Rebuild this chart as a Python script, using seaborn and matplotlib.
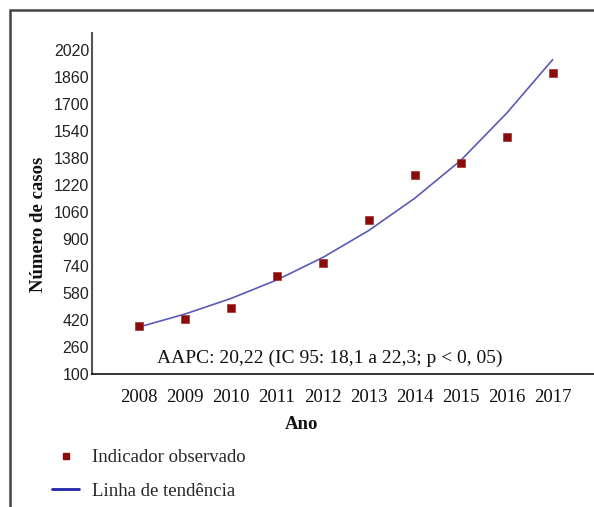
import matplotlib
matplotlib.use("Agg")
import matplotlib.pyplot as plt
import seaborn as sns
import pandas as pd
from matplotlib.lines import Line2D
from matplotlib.patches import Rectangle

years = [2008, 2009, 2010, 2011, 2012, 2013, 2014, 2015, 2016, 2017]
observed = [384, 424, 489, 681, 760, 1013, 1279, 1352, 1506, 1882]
trend = [378, 455, 547, 657, 790, 950, 1141, 1365, 1645, 1962]
yticks = [100, 260, 420, 580, 740, 900, 1060, 1220, 1380, 1540, 1700, 1860, 2020]
annotation = "AAPC: 20,22 (IC 95: 18,1 a 22,3; p < 0, 05)"

df = pd.DataFrame({"Ano": years, "obs": observed, "trend": trend})

sns.set_theme(style="white")
plt.rcParams["font.family"] = ["Liberation Serif", "DejaVu Serif"]

fig = plt.figure(figsize=(5.94, 5.07), dpi=100)
ax = fig.add_axes([92/594, 1-374/507, 1-92/594, (374-33)/507])

sns.lineplot(data=df, x="Ano", y="trend", ax=ax, color="#5a5ab8", lw=1.2)
sns.scatterplot(data=df, x="Ano", y="obs", ax=ax, marker="s", s=36,
                color="#8b0a0a", edgecolor="#a03030", linewidth=0.5, zorder=3)

ax.set_xlim(2006.98, 2017.9)
ax.set_ylim(100, 2120)
ax.set_yticks(yticks)
ax.set_yticklabels([str(v) for v in yticks], fontfamily="Liberation Sans", fontsize=11.5, color="#222222")
ax.set_xticks(years)
ax.set_xticklabels([str(v) for v in years], fontsize=13.5, color="#111111")
ax.tick_params(axis="y", length=0, pad=2)
ax.tick_params(axis="x", length=0, pad=10.5)

for s in ["top", "right"]:
    ax.spines[s].set_visible(False)
ax.spines["left"].set_color("#555555")
ax.spines["left"].set_linewidth(1.5)
ax.spines["bottom"].set_color("#111111")
ax.spines["bottom"].set_linewidth(1.2)

ax.set_xlabel("Ano", fontsize=13.5, fontweight="bold", color="#111111")
ax.xaxis.set_label_coords(0.418, -0.123)
ax.set_ylabel("Número de casos", fontsize=13.5, fontweight="bold", color="#111111")
ax.yaxis.set_label_coords(-0.09, 0.44)

ax.text(0.473, 0.045, annotation, transform=ax.transAxes, ha="center", va="center",
        fontsize=14, color="#111111")

handles = [
    Line2D([], [], linestyle="none", marker="s", markersize=5, color="#8b0a0a"),
    Line2D([], [], color="#2222aa", lw=2),
]
fig.legend(handles, ["Indicador observado", "Linha de tendência"],
           loc="upper left", bbox_to_anchor=(52/594, 1-449/507), frameon=False,
           fontsize=13.5, handlelength=1.45, handletextpad=0.7, labelspacing=0.88,
           borderaxespad=0, borderpad=0)

frame = Rectangle((10/594, -0.1), 1.2, 1-10/507+0.1, transform=fig.transFigure,
                  fill=False, edgecolor="#444444", linewidth=1.8)
fig.patches.append(frame)

fig.savefig("out.png", dpi=100)
